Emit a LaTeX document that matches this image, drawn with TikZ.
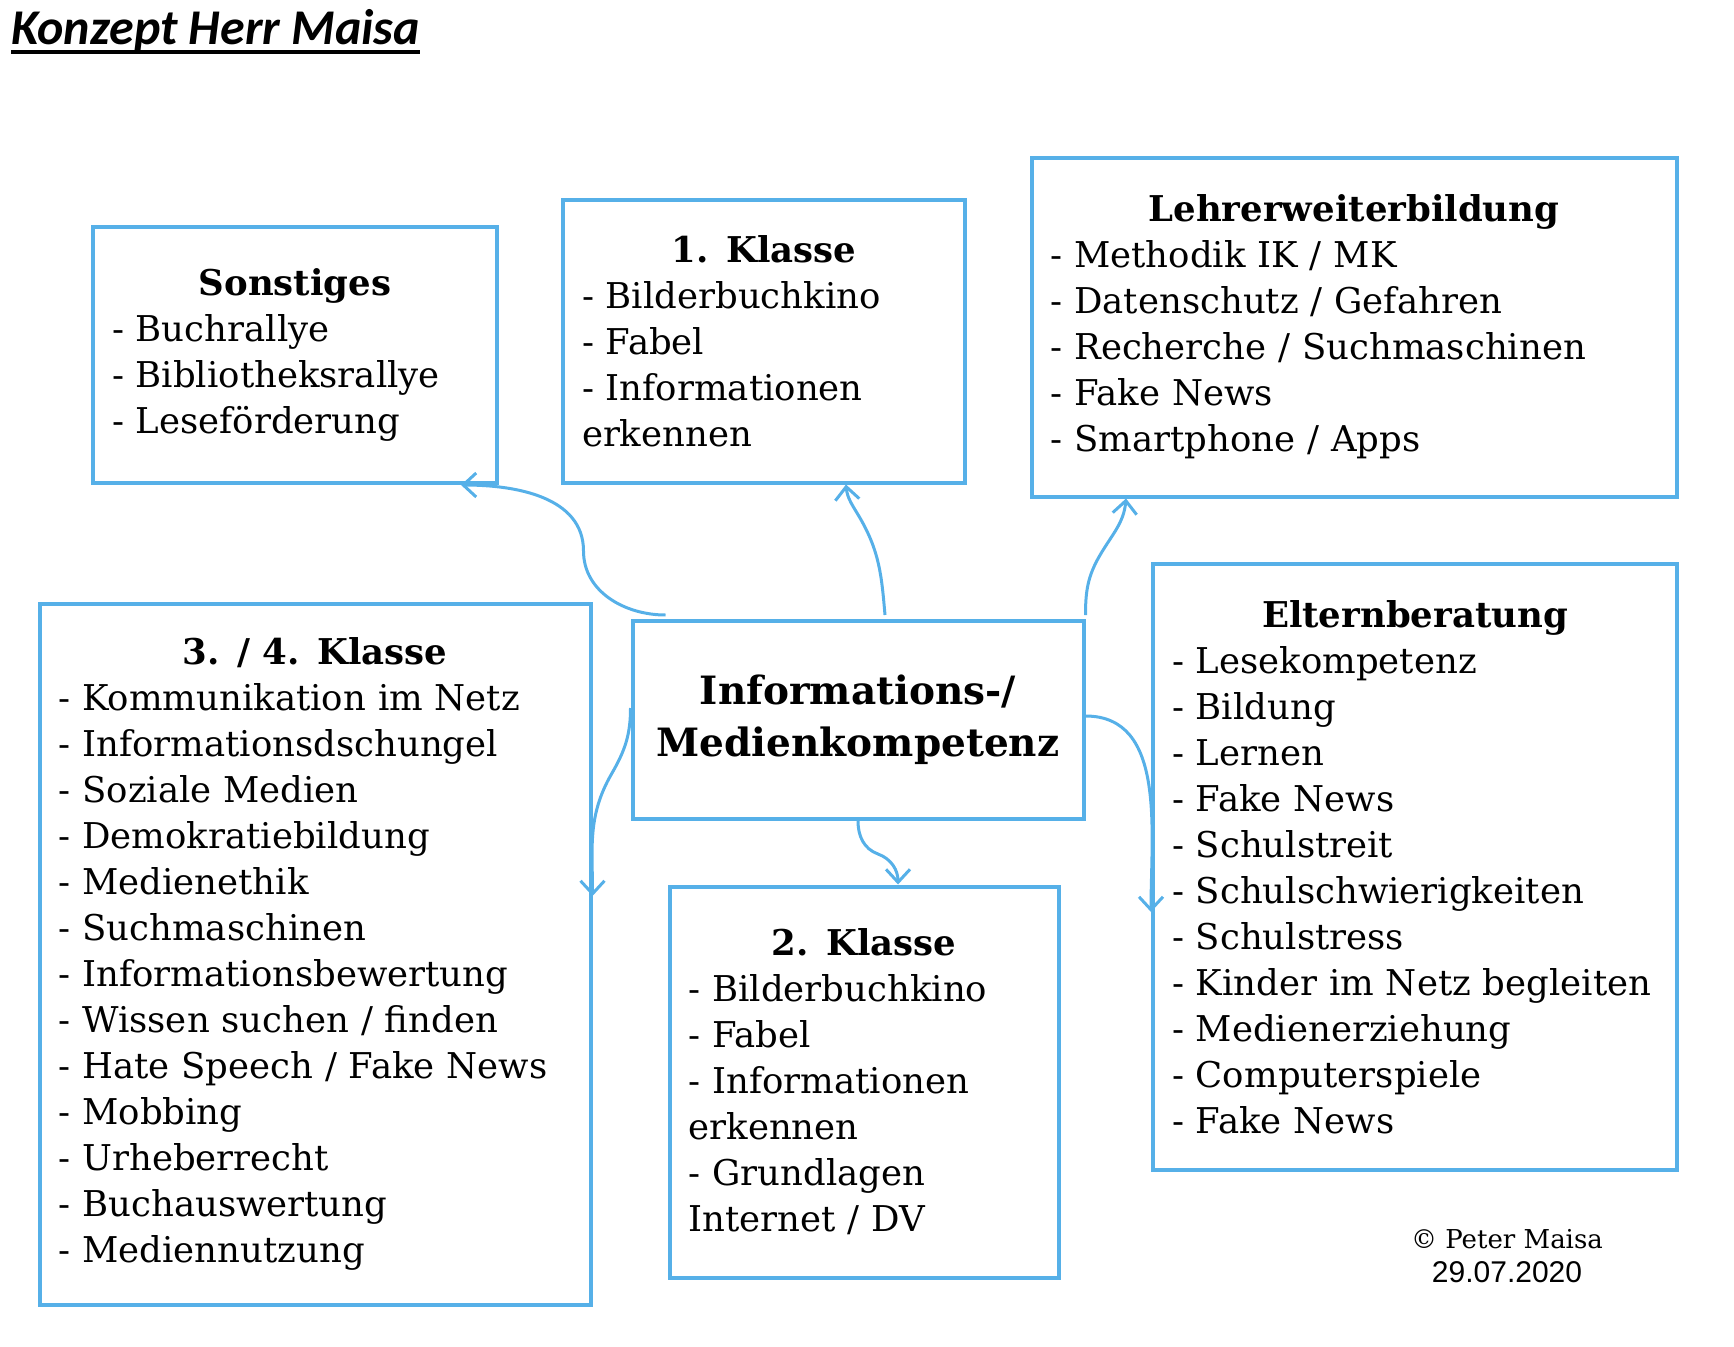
\documentclass[tikz,border=0pt]{standalone}
\usepackage{fontspec}
\setmainfont{DejaVu Serif}
\newfontfamily\titlefont{Carlito}
\newfontfamily\datefont{Liberation Sans}
\usetikzlibrary{arrows.meta}
\definecolor{rahmen}{RGB}{86,176,232}
\tikzset{
  box/.style={draw=rahmen,line width=4pt,rectangle,inner xsep=19pt,inner ysep=0pt,
    align=left,font=\fontsize{35.5}{46}\selectfont},
  link/.style={draw=rahmen,line width=3pt,-{Straight Barb[length=13pt,width=24pt]}}
}
\newcommand{\kopf}[1]{{\centering\bfseries #1\par}}
\begin{document}
\begin{tikzpicture}[x=1pt,y=-1pt]
        \useasboundingbox (0,0) rectangle (1734,1346);
        % Titel
        \node[anchor=base west,inner sep=0pt,font=\titlefont\bfseries\itshape\fontsize{50}{56}\selectfont] (titel) at (11,45) {Konzept Herr Maisa};
        \draw[line width=4pt] ([yshift=-7pt]titel.base west) -- ([yshift=-7pt]titel.base east);
        % Kaesten
        \node[box,minimum width=404pt,minimum height=256pt,text width=366pt] (sonst) at (295,355)
            {\kopf{Sonstiges}- Buchrallye\\- Bibliotheksrallye\\- Leseförderung};
        \node[box,minimum width=402pt,minimum height=283pt,text width=364pt] (kl1) at (764,341)
            {\kopf{1. Klasse}- Bilderbuchkino\\- Fabel\\- Informationen\\erkennen};
        \node[box,minimum width=645pt,minimum height=339pt,text width=607pt] (lehrer) at (1354,327)
            {\kopf{Lehrerweiterbildung}- Methodik IK / MK\\- Datenschutz / Gefahren\\- Recherche / Suchmaschinen\\- Fake News\\- Smartphone / Apps};
        \node[box,align=center,minimum width=451pt,minimum height=198pt,font=\bfseries\fontsize{39}{52}\selectfont] (mitte) at (858,720)
            {Informations-/\\Medienkompetenz};
        \node[box,minimum width=551pt,minimum height=701pt,text width=513pt] (kl34) at (315,954)
            {\kopf{3. / 4. Klasse}- Kommunikation im Netz\\- Informationsdschungel\\- Soziale Medien\\- Demokratiebildung\\- Medienethik\\- Suchmaschinen\\- Informationsbewertung\\- Wissen suchen / finden\\- Hate Speech / Fake News\\- Mobbing\\- Urheberrecht\\- Buchauswertung\\- Mediennutzung};
        \node[box,minimum width=389pt,minimum height=391pt,text width=351pt] (kl2) at (864,1082)
            {\kopf{2. Klasse}- Bilderbuchkino\\- Fabel\\- Informationen\\erkennen\\- Grundlagen\\Internet / DV};
        \node[box,minimum width=524pt,minimum height=606pt,text width=486pt] (eltern) at (1415,867)
            {\kopf{Elternberatung}- Lesekompetenz\\- Bildung\\- Lernen\\- Fake News\\- Schulstreit\\- Schulschwierigkeiten\\- Schulstress\\- Kinder im Netz begleiten\\- Medienerziehung\\- Computerspiele\\- Fake News};
        \node[align=center,font=\fontsize{26}{34}\selectfont] (copy) at (1507,1256)
            {© Peter Maisa\\{\datefont\fontsize{30}{34}\selectfont 29.07.2020}};
        % Pfeile
        \draw[link] ([xshift=35pt,yshift=4pt]mitte.north west) to[out=180,in=-90] ++(-82,-64) to[out=90,in=0] ([xshift=-38pt]sonst.south east);
        \draw[link] ([xshift=27pt,yshift=4pt]mitte.north) to[out=95,in=-60] ++(-25,-97) to[out=120,in=-85] ([xshift=82pt]kl1.south);
        \draw[link] ([yshift=4pt]mitte.north east) to[out=90,in=-120] ++(14,-59) to[out=60,in=-95] ([xshift=-228pt]lehrer.south);
        \draw[link] ([yshift=12pt]mitte.west) to[out=-90,in=60] ++(-19,66) to[out=-120,in=90] ([yshift=58pt]kl34.east);
        \draw[link] (mitte.south) to[out=-90,in=160] ++(20,33) to[out=-20,in=90] ([xshift=34pt]kl2.north);
        \draw[link] ([yshift=4pt]mitte.east) to[out=0,in=90] ([yshift=-45pt]eltern.west);
    \end{tikzpicture}
\end{document}
